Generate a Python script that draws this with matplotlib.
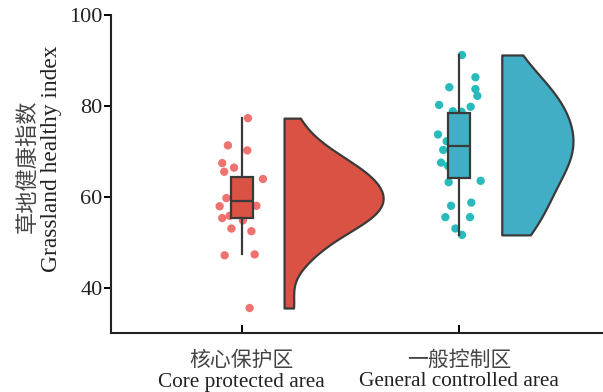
import numpy as np
import matplotlib
matplotlib.use("Agg")
import matplotlib.pyplot as plt
from matplotlib.transforms import blended_transform_factory

# ---- data -------------------------------------------------------------
categories_cn = ["核心保护区", "一般控制区"]
categories_en = ["Core protected area", "General controlled area"]

core_values = [77.3, 71.3, 70.2, 67.4, 66.4, 65.5, 63.9, 63.5, 62.8, 61.8,
               60.6, 59.7, 58.0, 57.9, 57.2, 55.8, 55.3, 54.8, 53.0, 52.4,
               47.3, 47.1, 35.5]
general_values = [91.2, 86.3, 84.1, 83.7, 82.2, 80.2, 79.8, 78.8, 78.7, 75.6,
                  74.2, 73.7, 72.2, 71.4, 70.3, 69.6, 68.8, 67.5, 66.8, 65.4,
                  63.5, 63.2, 58.7, 58.0, 55.5, 55.5, 53.0, 51.6]

# horizontal jitter of the scatter points (axis units)
core_jitter = [0.029, -0.063, 0.026, -0.089, -0.035, -0.080, 0.098, 0.037,
               0.010, -0.020, 0.015, -0.070, 0.068, -0.101, -0.010, -0.055,
               -0.089, 0.006, -0.047, 0.045, 0.060, -0.078, 0.037]
general_jitter = [0.012, 0.074, -0.046, 0.074, 0.083, -0.093, 0.052, -0.030,
                  0.010, 0.020, -0.015, -0.098, -0.058, 0.025, -0.074, 0.005,
                  -0.020, -0.084, -0.052, 0.030, 0.098, -0.049, 0.055, -0.038,
                  -0.064, 0.049, -0.018, 0.012]

# box statistics
core_box = dict(whislo=47.3, q1=55.3, med=59.0, q3=64.3, whishi=77.3)
general_box = dict(whislo=51.6, q1=64.1, med=71.2, q3=78.5, whishi=91.2)

yticks = [40, 60, 80, 100]

# ---- style ------------------------------------------------------------
fill_colors = ["#D95243", "#41AEC5"]
point_colors = ["#EE6A68", "#1DB8B8"]
edge = "#3A3A3A"
serif = "Liberation Serif"
cjk = "Noto Sans CJK SC"
bw_adjust = [0.9, 1.15]

fig = plt.figure(figsize=(6.03, 3.92), dpi=100)
ax = fig.add_axes([111 / 603, 1 - 333 / 392, 1 - 111 / 603, 318 / 392])

groups = [core_values, general_values]
jitters = [core_jitter, general_jitter]
boxes = [core_box, general_box]


def kde(vals, grid, adjust):
    v = np.asarray(vals)
    bw = adjust * v.std(ddof=1) * len(v) ** (-1 / 5)
    z = (grid[:, None] - v[None, :]) / bw
    return np.exp(-0.5 * z ** 2).sum(axis=1) / (len(v) * bw * np.sqrt(2 * np.pi))


# half violins, each scaled to its own maximum half-width
half_width = [0.455, 0.327]
grids = [np.linspace(min(g), max(g), 300) for g in groups]
for i, (g, gr) in enumerate(zip(groups, grids)):
    d = kde(g, gr, bw_adjust[i])
    x0 = i + 0.195
    ax.fill_betweenx(gr, x0, x0 + d / d.max() * half_width[i],
                     facecolor=fill_colors[i], edgecolor=edge, linewidth=1.6,
                     zorder=2)

# scatter points
for i, (g, j) in enumerate(zip(groups, jitters)):
    ax.scatter(i + np.asarray(j), g, s=36, color=point_colors[i],
               edgecolor="none", alpha=0.95, zorder=3)

# boxes
for i, b in enumerate(boxes):
    st = dict(b, fliers=[])
    ax.bxp([st], positions=[i], widths=0.10, patch_artist=True,
           showcaps=False, showfliers=False,
           boxprops=dict(facecolor=fill_colors[i], edgecolor=edge, linewidth=1.6),
           medianprops=dict(color=edge, linewidth=1.6),
           whiskerprops=dict(color=edge, linewidth=1.6),
           zorder=4)

ax.set_xlim(-0.60, 1.66)
ax.set_ylim(30, 100)
ax.set_yticks(yticks)
ax.set_yticklabels([str(t) for t in yticks], fontfamily=serif, fontsize=16,
                   color="#222222")
ax.set_xticks([0, 1])
ax.set_xticklabels(["", ""])
ax.tick_params(axis="y", direction="out", length=5, width=1.4, pad=1)
ax.tick_params(axis="x", direction="in", length=6, width=1.4)
for s in ["top", "right"]:
    ax.spines[s].set_visible(False)
for s in ["left", "bottom"]:
    ax.spines[s].set_linewidth(1.5)
    ax.spines[s].set_color("#222222")

# category labels (two lines)
tr = blended_transform_factory(ax.transData, fig.transFigure)
for i in range(2):
    ax.text(i, 1 - 360 / 392, categories_cn[i], transform=tr, ha="center",
            va="center", fontfamily=cjk, fontsize=15, color="#444444")
    ax.text(i, 1 - 382 / 392, categories_en[i], transform=tr, ha="center",
            va="center", fontfamily=serif, fontsize=15.3, color="#222222")

# y-axis title (two lines)
fig.text(27 / 603, 1 - 166 / 392, "草地健康指数", rotation=90, ha="center",
         va="center", fontfamily=cjk, fontsize=16, color="#444444")
fig.text(52 / 603, 1 - 158.5 / 392, "Grassland healthy index", rotation=90,
         ha="center", va="center", fontfamily=serif, fontsize=16.8,
         color="#222222")

fig.savefig("out.png", dpi=100)
